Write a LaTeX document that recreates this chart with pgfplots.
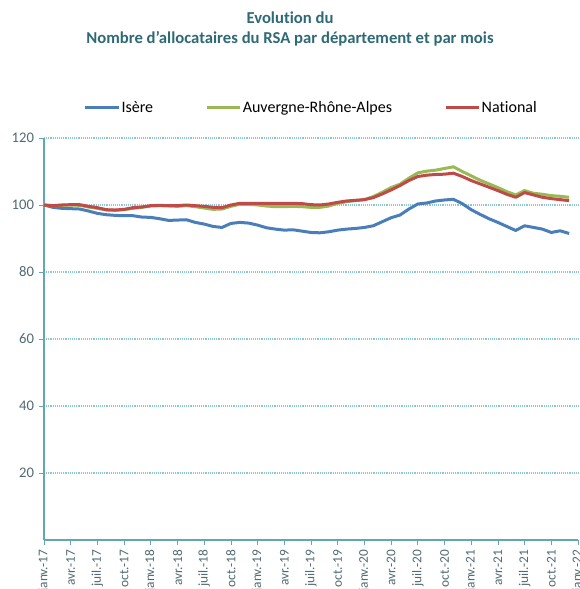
\documentclass[border=0pt]{standalone}
\usepackage{fontspec}
\setmainfont{Carlito}[Ligatures={TeX,NoCommon}]
\usepackage{pgfplots}
\pgfplotsset{compat=1.18}
\usepackage{pgfplotstable}

\definecolor{isere}{HTML}{4A7EBB}
\definecolor{ara}{HTML}{98B954}
\definecolor{nat}{HTML}{BE4B48}
\definecolor{axcol}{HTML}{62A8B4}
\definecolor{gridcol}{HTML}{8CC8D4}
\definecolor{titlecol}{HTML}{2E6A75}
\definecolor{tickcol}{HTML}{506A72}

% month index (0 = janv. 2017), indices base 100
\pgfplotstableread{
m isere ara nat
0 100.0 100.0 100.0
1 99.3 99.8 99.8
2 99.0 99.9 100.0
3 98.9 100.0 100.1
4 98.8 99.9 100.1
5 98.2 99.4 99.6
6 97.5 99.0 99.2
7 97.1 98.5 98.6
8 96.9 98.4 98.5
9 96.8 98.6 98.7
10 96.8 99.0 99.2
11 96.4 99.3 99.4
12 96.3 99.7 99.8
13 95.9 99.8 99.9
14 95.4 99.7 99.8
15 95.5 99.6 99.8
16 95.6 99.8 100.0
17 94.8 99.5 99.8
18 94.3 99.1 99.6
19 93.6 98.7 99.3
20 93.3 98.8 99.2
21 94.5 99.6 100.0
22 94.8 100.2 100.5
23 94.6 100.2 100.5
24 94.0 100.0 100.5
25 93.2 99.7 100.5
26 92.8 99.5 100.5
27 92.5 99.5 100.5
28 92.6 99.6 100.5
29 92.2 99.5 100.4
30 91.8 99.3 100.1
31 91.7 99.3 100.0
32 92.0 99.7 100.3
33 92.5 100.5 100.8
34 92.8 101.0 101.2
35 93.0 101.3 101.4
36 93.3 101.6 101.6
37 93.8 102.5 102.2
38 95.0 103.8 103.3
39 96.2 105.2 104.5
40 97.0 106.2 105.8
41 98.8 108.0 107.3
42 100.3 109.6 108.5
43 100.6 110.1 108.9
44 101.2 110.4 109.1
45 101.5 110.9 109.2
46 101.7 111.4 109.5
47 100.4 110.0 108.5
48 98.6 108.7 107.3
49 97.2 107.4 106.3
50 95.9 106.3 105.3
51 94.8 105.2 104.3
52 93.6 104.0 103.2
53 92.4 103.0 102.3
54 93.8 104.3 103.7
55 93.3 103.5 103.0
56 92.8 103.2 102.3
57 91.8 102.8 101.9
58 92.3 102.6 101.6
59 91.5 102.3 101.3
}\datatable

\begin{document}
\begin{tikzpicture}
  \begin{axis}[
    name=ax,
    scale only axis,
    width=400.5pt, height=301.5pt,
    xmin=0, xmax=60,
    ymin=0, ymax=120,
    axis x line*=bottom,
    axis y line*=left,
    axis line style={axcol, line width=0.8pt},
    every tick/.style={axcol, line width=0.6pt},
    tick align=outside,
    major tick length=4pt,
    xtick={0,3,...,60},
    xticklabels={janv.-17,avr.-17,juil.-17,oct.-17,
      janv.-18,avr.-18,juil.-18,oct.-18,
      janv.-19,avr.-19,juil.-19,oct.-19,
      janv.-20,avr.-20,juil.-20,oct.-20,
      janv.-21,avr.-21,juil.-21,oct.-21,janv.-22},
    x tick label style={rotate=90, anchor=east, font=\fontsize{10}{12}\selectfont, text=tickcol},
    ytick={20,40,...,120},
    y tick label style={font=\fontsize{11}{13}\selectfont, text=tickcol},
    /pgf/number format/assume math mode=true,
    ymajorgrids,
    major grid style={gridcol, densely dotted, line width=0.8pt},
    legend columns=3,
    legend style={
      at={(0.5,1)}, anchor=center, yshift=22.5pt,
      draw=none, fill=none,
      font=\fontsize{12}{14}\selectfont,
      /tikz/every even column/.append style={column sep=38pt},
      nodes={inner sep=1pt},
    },
    legend image code/.code={\draw[#1] (0pt,0pt) -- (25pt,0pt);},
    every axis plot/.append style={line width=2.25pt, line join=round},
    clip=false,
  ]
    \addplot[isere] table[x=m, y=isere] {\datatable};
    \addlegendentry{Isère}
    \addplot[ara] table[x=m, y=ara] {\datatable};
    \addlegendentry{Auvergne-Rhône-Alpes}
    \addplot[nat] table[x=m, y=nat] {\datatable};
    \addlegendentry{National}
  \end{axis}
  \node[text=titlecol, font=\bfseries\fontsize{12.5}{15}\selectfont, align=center]
    at ([shift={(184.5pt,82pt)}]ax.north west)
    {Evolution du\\Nombre d\symbol{"0027}allocataires du RSA par département et par mois};
  \pgfresetboundingbox
  \path[use as bounding box] ([shift={(-33pt,-36.75pt)}]ax.south west)
    rectangle ([shift={(1.5pt,103.5pt)}]ax.north east);
\end{tikzpicture}
\end{document}
